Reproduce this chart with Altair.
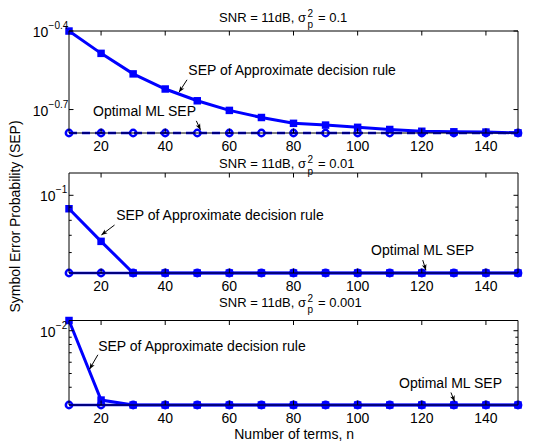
import altair as alt
import pandas as pd

# ---------------- data ----------------
n_terms = [10, 20, 30, 40, 50, 60, 70, 80, 90, 100, 110, 120, 130, 140, 150]

# sigma_p^2 = 0.1
sep_approx_a = [0.398, 0.327, 0.273, 0.239, 0.2155, 0.198, 0.186, 0.1767,
                0.174, 0.1706, 0.1674, 0.1648, 0.1640, 0.1636, 0.1625]
sep_ml_a = [0.1623, 0.1623, 0.1623, 0.1623, 0.1623, 0.1623, 0.1623, 0.1623,
            0.1623, 0.1623, 0.1623, 0.1623, 0.1623, 0.1623, 0.1623]
# sigma_p^2 = 0.01
sep_approx_b = [0.0887, 0.0663, 0.0500, 0.0500, 0.0500, 0.0500, 0.0500, 0.0500,
                0.0500, 0.0500, 0.0500, 0.0500, 0.0500, 0.0500, 0.0500]
sep_ml_b = [0.0500, 0.0500, 0.0500, 0.0500, 0.0500, 0.0500, 0.0500, 0.0500,
            0.0500, 0.0500, 0.0500, 0.0500, 0.0500, 0.0500, 0.0500]
# sigma_p^2 = 0.001
sep_approx_c = [0.0118, 0.00325, 0.0030, 0.0030, 0.0030, 0.0030, 0.0030, 0.0030,
                0.0030, 0.0030, 0.0030, 0.0030, 0.0030, 0.0030, 0.0030]
sep_ml_c = [0.0030, 0.0030, 0.0030, 0.0030, 0.0030, 0.0030, 0.0030, 0.0030,
            0.0030, 0.0030, 0.0030, 0.0030, 0.0030, 0.0030, 0.0030]

sigma_labels = ["0.1", "0.01", "0.001"]
x_ticks = [20, 40, 60, 80, 100, 120, 140]

y_domain_a = [0.1623, 0.3981]
y_major_a = [0.3981, 0.1995]
y_exp_a = ["\u22120.4", "\u22120.7"]
y_minor_a = []

y_domain_b = [0.05, 0.122]
y_major_b = [0.1]
y_exp_b = ["\u22121"]
y_minor_b = [0.09, 0.08, 0.07, 0.06]

y_domain_c = [0.003, 0.0118]
y_major_c = [0.01]
y_exp_c = ["\u22122"]
y_minor_c = [0.009, 0.008, 0.007, 0.006, 0.005, 0.004]

TXT_APPROX = "SEP of Approximate decision rule"
TXT_ML = "Optimal ML SEP"
TXT_XTITLE = "Number of terms, n"
TXT_YTITLE = "Symbol Error Probability (SEP)"

# ---------------- styling ----------------
BLUE = "#0000ff"
FONT = "Liberation Sans"
W = 449
ARROW = "M0,0L0.4,1L0,0.75L-0.4,1Z"
one = pd.DataFrame({"k": [0]})
XSCALE = alt.Scale(domain=[10, 150], nice=False, zero=False)


def xd(v):
    return alt.XDatum(v, type="quantitative", axis=None)


def yd(v):
    return alt.YDatum(v, type="quantitative", axis=None)


def txt(text, size=14, align="left", baseline="middle", **kw):
    return alt.Chart(one).mark_text(text=text, align=align, baseline=baseline,
                                    font=FONT, fontSize=size, color="black", **kw)


def panel(approx, ml, ydom, yrange, height, majors, exps, minors, sigma,
          title_y, ten_x, annots, ml_dashed, xtitle, ytitle=False):
    df = pd.DataFrame({"n": n_terms, "approx": approx, "ml": ml})
    ysc = dict(type="log", domain=ydom, nice=False)
    if yrange:
        ysc["range"] = yrange

    base = alt.Chart(df)
    layers = []
    # series (first layer carries the shared scales)
    ml_kw = dict(color=BLUE, strokeWidth=2.5)
    if ml_dashed:
        ml_kw["strokeDash"] = [8, 5]
    layers.append(base.mark_line(**ml_kw).encode(
        x=alt.X("n:Q", scale=XSCALE, axis=None),
        y=alt.Y("ml:Q", scale=alt.Scale(**ysc), axis=None)))
    layers.append(base.mark_point(shape="circle", filled=False, size=40, strokeWidth=2.5,
                                  color=BLUE, opacity=1).encode(
        x=alt.X("n:Q", axis=None), y=alt.Y("ml:Q", axis=None)))
    layers.append(base.mark_line(color=BLUE, strokeWidth=3).encode(
        x=alt.X("n:Q", axis=None), y=alt.Y("approx:Q", axis=None)))
    layers.append(base.mark_point(shape="square", filled=True, size=56,
                                  color=BLUE, opacity=1).encode(
        x=alt.X("n:Q", axis=None), y=alt.Y("approx:Q", axis=None)))
    # frame
    layers.append(alt.Chart(one).mark_rect(filled=False, stroke="black", strokeWidth=1)
                  .encode(x=xd(10), x2=alt.X2Datum(150),
                          y=yd(ydom[1]), y2=alt.Y2Datum(ydom[0])))
    # x ticks (inward, bottom & top) and tick labels
    tdf = pd.DataFrame({"t": x_ticks})
    layers.append(alt.Chart(tdf).mark_tick(orient="vertical", size=4.5, thickness=1,
                                           color="black", yOffset=-2.25, opacity=1)
                  .encode(x=alt.X("t:Q", axis=None), y=yd(ydom[0])))
    layers.append(alt.Chart(tdf).mark_tick(orient="vertical", size=4.5, thickness=1,
                                           color="black", yOffset=2.25, opacity=1)
                  .encode(x=alt.X("t:Q", axis=None), y=yd(ydom[1])))
    layers.append(alt.Chart(tdf).mark_text(align="center", baseline="alphabetic", dy=18,
                                           font=FONT, fontSize=14, color="black")
                  .encode(x=alt.X("t:Q", axis=None), y=yd(ydom[0]),
                          text=alt.Text("t:Q", format="d")))
    # y ticks (inward, left & right)
    for vals, ln in ((majors, 4.5), (minors, 2.7)):
        if not vals:
            continue
        vdf = pd.DataFrame({"v": vals})
        layers.append(alt.Chart(vdf).mark_tick(orient="horizontal", size=ln, thickness=1,
                                               color="black", xOffset=ln / 2, opacity=1)
                      .encode(y=alt.Y("v:Q", axis=None), x=xd(10)))
        layers.append(alt.Chart(vdf).mark_tick(orient="horizontal", size=ln, thickness=1,
                                               color="black", xOffset=-ln / 2, opacity=1)
                      .encode(y=alt.Y("v:Q", axis=None), x=xd(150)))
    # y labels 10^e
    for v, e in zip(majors, exps):
        layers.append(txt("10", align="right", dy=2).encode(x=alt.value(ten_x), y=yd(v)))
        layers.append(txt(e, size=10, dy=-5).encode(x=alt.value(ten_x + 0.3), y=yd(v)))
    # annotations
    for a in annots:
        layers.append(txt(a["text"]).encode(x=xd(a["tx"]), y=yd(a["ty"])))
        layers.append(alt.Chart(one).mark_rule(color="black", strokeWidth=1)
                      .encode(x=xd(a["x0"]), x2=alt.X2Datum(a["x1"]),
                              y=yd(a["y0"]), y2=alt.Y2Datum(a["y1"])))
        layers.append(alt.Chart(one).mark_point(shape=ARROW, filled=True, size=144,
                                                color="black", opacity=1, angle=a["ang"])
                      .encode(x=xd(a["x1"]), y=yd(a["y1"])))
    # panel title: SNR = 11dB, sigma_p^2 = ...
    layers.append(txt("SNR = 11dB, \u03c3", size=13, align="right", baseline="alphabetic")
                  .encode(x=alt.value(237), y=alt.value(title_y)))
    layers.append(txt("2", size=10, baseline="alphabetic")
                  .encode(x=alt.value(238.5), y=alt.value(title_y - 5)))
    layers.append(txt("p", size=10, baseline="alphabetic")
                  .encode(x=alt.value(238.5), y=alt.value(title_y + 6.5)))
    layers.append(txt("= " + sigma, size=13, baseline="alphabetic")
                  .encode(x=alt.value(249), y=alt.value(title_y)))
    if xtitle:
        layers.append(txt(TXT_XTITLE, align="center", baseline="alphabetic", dy=34)
                      .encode(x=xd(80.2), y=yd(ydom[0])))
    if ytitle:
        layers.append(txt(TXT_YTITLE, align="center", angle=270)
                      .encode(x=alt.value(-53), y=alt.value(43.5)))
    return alt.layer(*layers).properties(width=W, height=height)


annots_a = [
    dict(text=TXT_APPROX, tx=47.2, ty=0.2788, x0=46.8, y0=0.2592, x1=44.3, y1=0.2323, ang=213.5),
    dict(text=TXT_ML, tx=17.5, ty=0.1960, x0=49.7, y0=0.1806, x1=51.0, y1=0.1669, ang=154.5),
]
annots_b = [
    dict(text=TXT_APPROX, tx=24.7, ty=0.0831, x0=24.2, y0=0.0767, x1=20.1, y1=0.0702, ang=233.1),
    dict(text=TXT_ML, tx=104.2, ty=0.0608, x0=120.3, y0=0.0561, x1=121.3, y1=0.0512, ang=162.2),
]
annots_c = [
    dict(text=TXT_APPROX, tx=19.1, ty=0.00762, x0=19.0, y0=0.00677, x1=16.4, y1=0.00536, ang=210.3),
    dict(text=TXT_ML, tx=112.9, ty=0.00423, x0=129.1, y0=0.003674, x1=130.2, y1=0.003176, ang=159.9),
]

p1 = panel(sep_approx_a, sep_ml_a, y_domain_a, None, 102, y_major_a, y_exp_a, y_minor_a,
           sigma_labels[0], -9.5, -20.7, annots_a, True, False)
p2 = panel(sep_approx_b, sep_ml_b, y_domain_b, None, 100, y_major_b, y_exp_b, y_minor_b,
           sigma_labels[1], -4.8, -13.5, annots_b, False, False, ytitle=True)
p3 = panel(sep_approx_c, sep_ml_c, y_domain_c, [92, 7.5], 92, y_major_c, y_exp_c, y_minor_c,
           sigma_labels[2], -6.4, -13.5, annots_c, False, True)

chart = (
    alt.vconcat(p1, p2, p3, spacing=40, bounds="flush")
    .properties(padding={"left": 0, "top": 0, "right": 2, "bottom": 2}, background="white")
    .configure_view(stroke="transparent")
)

chart.save("out.html", embed_options={"renderer": "svg", "actions": False})
